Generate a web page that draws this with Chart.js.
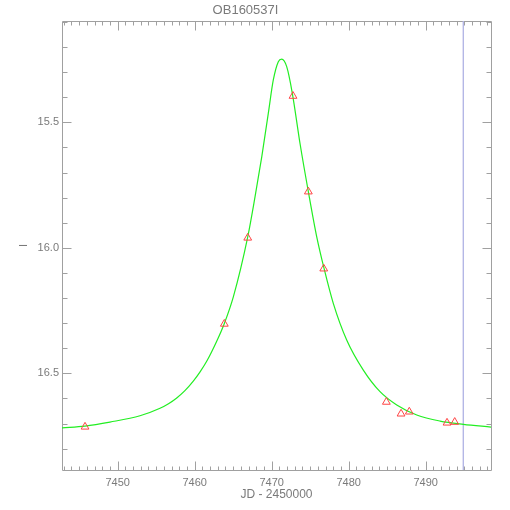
<!DOCTYPE html>
<html>
<head>
<meta charset="utf-8">
<script src="https://cdn.jsdelivr.net/npm/chart.js@4"></script>
<style>
html, body { margin: 0; padding: 0; background: #fff; }
#wrap { width: 510px; height: 510px; }
</style>
</head>
<body>
<div id="wrap"><canvas id="lc" width="510" height="510"></canvas></div>
<script>
// observed points (JD - 2450000, I mag)
const obsJD  = [7445.76, 7463.85, 7466.89, 7472.77, 7474.76, 7476.76, 7484.89, 7486.80, 7487.87, 7492.77, 7493.77];
const obsMag = [16.713, 16.303, 15.960, 15.395, 15.776, 16.083, 16.614, 16.661, 16.653, 16.697, 16.694];

// model curve
const modelJD  = [7442.77, 7445.76, 7449.00, 7452.90, 7455.50, 7456.60, 7457.67, 7458.70, 7459.82, 7460.70,
                  7461.56, 7462.86, 7463.85, 7465.02, 7466.89, 7467.84, 7468.71, 7469.56, 7470.21, 7470.86,
                  7471.30, 7471.95, 7472.68, 7473.68, 7474.76, 7475.85, 7476.80, 7478.00, 7479.74, 7481.90,
                  7484.07, 7486.24, 7488.84, 7491.86, 7494.89, 7498.48];
const modelMag = [16.717, 16.710, 16.694, 16.669, 16.639, 16.621, 16.598, 16.570, 16.531, 16.494,
                  16.452, 16.372, 16.301, 16.195, 15.956, 15.796, 15.637, 15.464, 15.331, 15.258,
                  15.248, 15.278, 15.384, 15.584, 15.776, 15.956, 16.082, 16.221, 16.367, 16.487,
                  16.573, 16.626, 16.666, 16.690, 16.703, 16.714];

const markerJD = 7494.89;
const xRange = [7442.77, 7498.48];
const yRange = [15.096, 16.885];
const xMajor = [7450, 7460, 7470, 7480, 7490];
const yMajor = [15.5, 16.0, 16.5];
const xMinorStep = 1;
const yMinorStep = 0.1;

const axisColor = '#a0a0a0';
const textColor = '#7a7a7a';
const fontFam = '"Liberation Sans", Arial, sans-serif';

// IDL style box with inward ticks
const idlFrame = {
	id: 'idlFrame',
	beforeDatasetsDraw(chart) {
		const { ctx, chartArea: a, scales: { x, y } } = chart;
		const L = Math.round(a.left) + 0.5, R = Math.round(a.right) + 0.5;
		const T = Math.round(a.top) + 0.5, B = Math.round(a.bottom) + 0.5;
		ctx.save();
		ctx.strokeStyle = axisColor;
		ctx.lineWidth = 1;
		ctx.beginPath();
		ctx.rect(L, T, R - L, B - T);
		// x ticks
		for (let v = Math.ceil(xRange[0]); v <= xRange[1]; v += xMinorStep) {
			const len = xMajor.includes(v) ? 9 : 4;
			const px = Math.round(x.getPixelForValue(v)) + 0.5;
			ctx.moveTo(px, B); ctx.lineTo(px, B - len);
			ctx.moveTo(px, T); ctx.lineTo(px, T + len);
		}
		// y ticks
		for (let k = Math.ceil(yRange[0] / yMinorStep); k * yMinorStep <= yRange[1]; k++) {
			const v = +(k * yMinorStep).toFixed(2);
			const len = yMajor.includes(v) ? 9 : 5;
			const py = Math.round(y.getPixelForValue(v)) + 0.5;
			ctx.moveTo(L, py); ctx.lineTo(L + len, py);
			ctx.moveTo(R, py); ctx.lineTo(R - len, py);
		}
		ctx.stroke();
		ctx.restore();
	}
};

new Chart(document.getElementById('lc'), {
	type: 'line',
	data: {
		datasets: [{
			label: 'marker',
			data: [{ x: markerJD, y: yRange[0] }, { x: markerJD, y: yRange[1] }],
			borderColor: '#b4b8e6',
			borderWidth: 1,
			pointRadius: 0,
			order: 3
		}, {
			label: 'model',
			data: modelJD.map((v, i) => ({ x: v, y: modelMag[i] })),
			borderColor: '#22ee22',
			borderWidth: 1.2,
			pointRadius: 0,
			cubicInterpolationMode: 'monotone',
			fill: false,
			order: 2
		}, {
			label: 'obs',
			data: obsJD.map((v, i) => ({ x: v, y: obsMag[i] })),
			showLine: false,
			pointStyle: 'triangle',
			pointRadius: 4.5,
			pointBorderWidth: 1,
			borderColor: '#ff4444',
			backgroundColor: 'rgba(0,0,0,0)',
			order: 1
		}]
	},
	options: {
		responsive: false,
		animation: false,
		events: [],
		layout: { padding: { left: 0, right: 19, top: 0, bottom: 0 } },
		plugins: {
			legend: { display: false },
			tooltip: { enabled: false },
			title: {
				display: true,
				text: 'OB160537I',
				color: textColor,
				font: { family: fontFam, size: 13, weight: 'normal' },
				padding: { top: 3, bottom: 2.4 }
			}
		},
		scales: {
			x: {
				type: 'linear',
				position: 'bottom',
				min: xRange[0],
				max: xRange[1],
				grid: { display: false, drawTicks: false },
				border: { display: false },
				ticks: {
					color: textColor,
					font: { family: fontFam, size: 11 },
					padding: 6,
					autoSkip: false,
					maxRotation: 0,
					callback: v => String(v)
				},
				afterBuildTicks: s => { s.ticks = xMajor.map(v => ({ value: v })); },
				afterFit: s => { s.height = 40; },
				title: {
					display: true,
					text: 'JD - 2450000',
					color: textColor,
					font: { family: fontFam, size: 12 },
					padding: { top: 0, bottom: 8 }
				}
			},
			y: {
				type: 'linear',
				reverse: true,
				min: yRange[0],
				max: yRange[1],
				grid: { display: false, drawTicks: false },
				border: { display: false },
				ticks: {
					color: textColor,
					font: { family: fontFam, size: 11 },
					padding: 3,
					callback: v => Number(v).toFixed(1)
				},
				afterBuildTicks: s => { s.ticks = yMajor.map(v => ({ value: v })); },
				afterFit: s => { s.width = 62; },
				title: {
					display: true,
					text: 'I',
					color: textColor,
					font: { family: fontFam, size: 11 },
					padding: { top: 17, bottom: 0 }
				}
			}
		}
	},
	plugins: [idlFrame]
});
</script>
</body>
</html>
